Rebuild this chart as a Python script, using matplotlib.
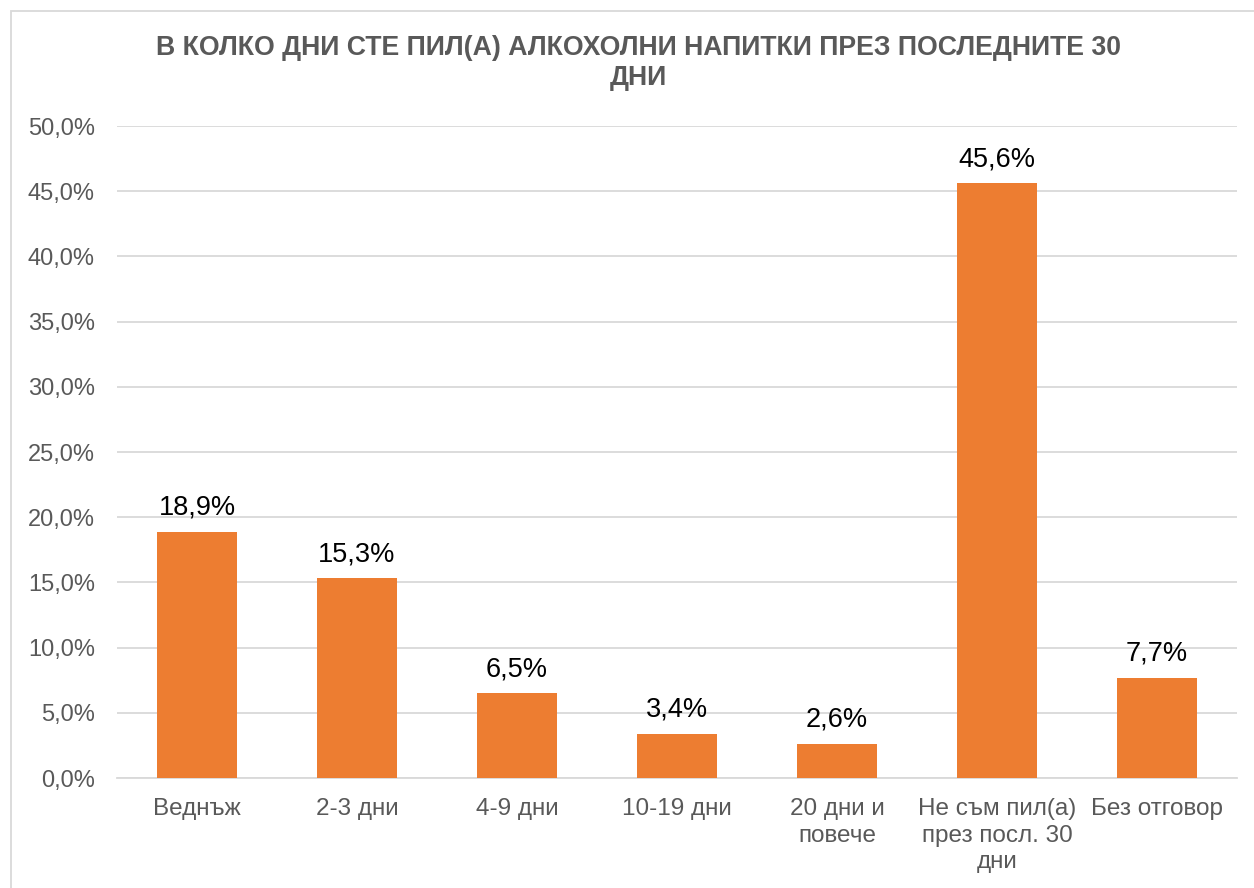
import matplotlib
matplotlib.use("Agg")
import matplotlib.pyplot as plt
from matplotlib.patches import Rectangle
from matplotlib.ticker import FuncFormatter, MultipleLocator

categories = ["Веднъж", "2-3 дни", "4-9 дни", "10-19 дни", "20 дни и\nповече",
              "Не съм пил(а)\nпрез посл. 30\nдни", "Без отговор"]
values = [18.9, 15.3, 6.5, 3.4, 2.6, 45.6, 7.7]
title = "В КОЛКО ДНИ СТЕ ПИЛ(А) АЛКОХОЛНИ НАПИТКИ ПРЕЗ ПОСЛЕДНИТЕ 30\nДНИ"

plt.rcParams['font.family'] = ['Liberation Sans', 'DejaVu Sans']

fig = plt.figure(figsize=(12.54, 8.88), dpi=100)
ax = fig.add_axes([117/1254, 1-778/888, 1120/1254, 652/888])

x = list(range(len(categories)))
ax.bar(x, values, width=0.5, color="#ED7D31", zorder=3)
for xi, v in zip(x, values):
    ax.annotate(f"{v:.1f}%".replace(".", ","), (xi, v), xytext=(0, 8),
                textcoords="offset points", ha="center", va="bottom",
                fontsize=19.5, color="#000000")

ax.set_xlim(-0.5, len(categories) - 0.5)
ax.set_ylim(0, 50)
ax.yaxis.set_major_locator(MultipleLocator(5))
ax.yaxis.set_major_formatter(FuncFormatter(lambda v, p: f"{v:.1f}%".replace(".", ",")))
ax.set_xticks(x)
ax.set_xticklabels(categories, fontsize=17.5, color="#595959", linespacing=1.27)
ax.tick_params(axis="y", labelsize=17, labelcolor="#595959", length=0, pad=16)
ax.tick_params(axis="x", length=0, pad=14.5)
ax.grid(axis="y", color="#d9d9d9", lw=1.3, zorder=0)
for s in ["top", "right", "left"]:
    ax.spines[s].set_visible(False)
ax.spines["bottom"].set_color("#d9d9d9")
ax.spines["bottom"].set_linewidth(1.3)

fig.text(638/1254, 1-63/888, title, ha="center", va="center", fontsize=19.2,
         fontweight="bold", color="#595959", linespacing=1.17)

fig.patches.append(Rectangle((11/1254, -0.05), 1.2, 1-11/888+0.05,
                             transform=fig.transFigure, fill=False,
                             edgecolor="#d9d9d9", lw=1.3))

fig.savefig("out.png", dpi=100)
